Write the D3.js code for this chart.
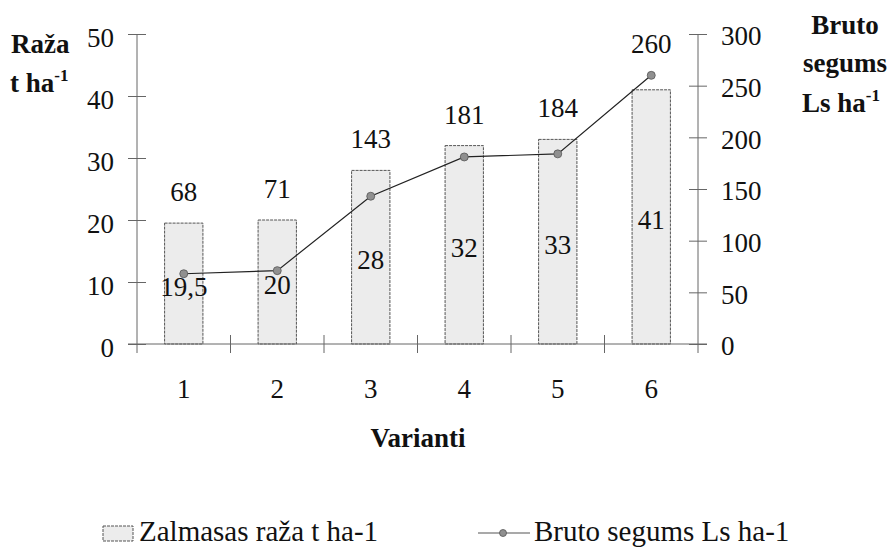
<!DOCTYPE html>
<html>
<head>
<meta charset="utf-8">
<script src="https://cdn.jsdelivr.net/npm/d3@7"></script>
</head>
<body style="margin:0">
<svg id="chart" width="889" height="548"></svg>
<script>
// data
const variants   = ['1', '2', '3', '4', '5', '6'];
const yieldVals  = [19.5, 20, 28, 32, 33, 41];      // Zalmasas raža t ha-1 (bars)
const yieldLbls  = ['19,5', '20', '28', '32', '33', '41'];
const grossVals  = [68, 71, 143, 181, 184, 260];    // Bruto segums Ls ha-1 (line)
const leftTicks  = [0, 10, 20, 30, 40, 50];
const rightTicks = [0, 50, 100, 150, 200, 250, 300];

const FONT = 'Liberation Serif';
const svg = d3.select('#chart');
const L = 137, R = 698, T = 34, B = 344;

const x  = d3.scaleBand().domain(variants).range([L, R]).paddingInner(0.59).paddingOuter(0.295);
const xb = d3.scaleBand().domain(variants).range([L, R]);   // category boundaries
const yL = d3.scaleLinear().domain([0, 50]).range([B, T]);
const yR = d3.scaleLinear().domain([0, 300]).range([B, T]);

const axisCol = '#666';
const txt = (sel, size) => sel.attr('font-family', FONT).attr('font-size', size).attr('fill', '#111');

// bars
svg.append('g').selectAll('rect').data(yieldVals).join('rect')
  .attr('x', (d, i) => x(variants[i]))
  .attr('y', d => yL(d))
  .attr('width', x.bandwidth())
  .attr('height', d => B - yL(d))
  .attr('fill', '#ececec')
  .attr('stroke', '#555').attr('stroke-width', 1).attr('stroke-dasharray', '3,1');

// left / right axes
const gL = svg.append('g').attr('transform', `translate(${L},0)`)
  .call(d3.axisLeft(yL).tickValues(leftTicks).tickSize(9).tickPadding(14));
const gR = svg.append('g').attr('transform', `translate(${R},0)`)
  .call(d3.axisRight(yR).tickValues(rightTicks).tickSize(9).tickPadding(14));
[gL, gR].forEach(g => {
  g.attr('font-family', FONT);
  g.select('.domain').remove();
  g.selectAll('.tick line').attr('x1', -9).attr('x2', 9).attr('stroke', axisCol);
  txt(g.selectAll('.tick text'), 27);
});
gL.selectAll('.tick text').attr('dy', '0.48em');
gR.selectAll('.tick text').attr('dy', '0.4em');
svg.append('line').attr('x1', L).attr('x2', L).attr('y1', T).attr('y2', B + 9).attr('stroke', axisCol);
svg.append('line').attr('x1', R).attr('x2', R).attr('y1', T).attr('y2', B + 9).attr('stroke', axisCol);

// bottom axis line + boundary ticks
const gB = svg.append('g');
gB.append('line').attr('x1', L - 9).attr('x2', R + 9).attr('y1', B).attr('y2', B).attr('stroke', axisCol);
gB.selectAll('line.b').data(variants.slice(1)).join('line').attr('class', 'b')
  .attr('x1', d => xb(d)).attr('x2', d => xb(d)).attr('y1', B - 9).attr('y2', B + 9)
  .attr('stroke', axisCol);
txt(gB.selectAll('text').data(variants).join('text'), 27)
  .attr('x', d => xb(d) + xb.bandwidth() / 2).attr('y', B + 54)
  .attr('text-anchor', 'middle').text(d => d);

// line series
const cx = i => x(variants[i]) + x.bandwidth() / 2;
const line = d3.line().x((d, i) => cx(i)).y(d => yR(d));
svg.append('path').datum(grossVals).attr('d', line)
  .attr('fill', 'none').attr('stroke', '#222').attr('stroke-width', 1.2);
svg.append('g').selectAll('circle').data(grossVals).join('circle')
  .attr('cx', (d, i) => cx(i)).attr('cy', d => yR(d)).attr('r', 4)
  .attr('fill', '#909090').attr('stroke', '#555').attr('stroke-width', 0.8);

// bar value labels (inside bars)
txt(svg.append('g').selectAll('text').data(yieldVals).join('text'), 27)
  .attr('x', (d, i) => cx(i))
  .attr('y', d => (yL(d) + B) / 2 + 12)
  .attr('text-anchor', 'middle')
  .text((d, i) => yieldLbls[i]);

// line value labels above bar / point
txt(svg.append('g').selectAll('text').data(grossVals).join('text'), 27)
  .attr('x', (d, i) => cx(i))
  .attr('y', (d, i) => Math.min(yL(yieldVals[i]), yR(d)) - 22)
  .attr('text-anchor', 'middle')
  .text(d => d);

// axis titles
function title(s, xx, yy, anchor, sup) {
  const t = txt(svg.append('text'), 27).attr('font-weight', 'bold')
    .attr('x', xx).attr('y', yy).attr('text-anchor', anchor);
  t.append('tspan').text(s);
  if (sup) t.append('tspan').attr('font-size', 17).attr('dy', -11).text(sup);
  return t;
}
title('Raža', 11, 53, 'start');
title('t ha', 10, 92, 'start', '-1');
title('Bruto', 845, 34, 'middle');
title('segums', 845, 72, 'middle');
title('Ls ha', 841, 112, 'middle', '-1');
title('Varianti', 418, 447, 'middle');

// legend
const lg = svg.append('g');
lg.append('rect').attr('x', 103).attr('y', 526).attr('width', 30).attr('height', 15)
  .attr('fill', '#ececec').attr('stroke', '#555').attr('stroke-dasharray', '3,1');
txt(lg.append('text'), 29).attr('x', 139).attr('y', 541).text('Zalmasas raža t ha-1');
lg.append('line').attr('x1', 478).attr('x2', 530).attr('y1', 533).attr('y2', 533)
  .attr('stroke', '#555').attr('stroke-width', 1.2);
lg.append('circle').attr('cx', 503).attr('cy', 533).attr('r', 3.5)
  .attr('fill', '#909090').attr('stroke', '#555').attr('stroke-width', 0.8);
txt(lg.append('text'), 29).attr('x', 534).attr('y', 541).text('Bruto segums Ls ha-1');
</script>
</body>
</html>
